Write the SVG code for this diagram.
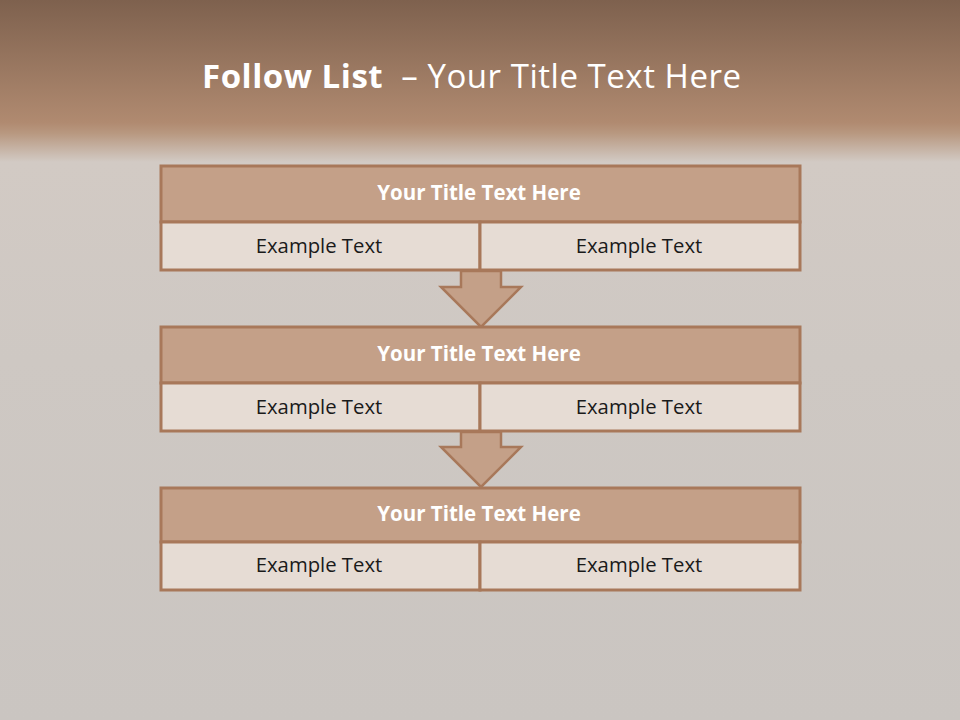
<svg xmlns="http://www.w3.org/2000/svg" width="960" height="720" viewBox="0 0 960 720">
<defs>
<linearGradient id="bg" x1="0" y1="0" x2="0" y2="1">
<stop offset="0" stop-color="#7E614E"/>
<stop offset="0.17" stop-color="#B08A70"/>
<stop offset="0.185" stop-color="#B89880"/>
<stop offset="0.225" stop-color="#D2CAC4"/>
<stop offset="0.5" stop-color="#CEC8C3"/>
<stop offset="1" stop-color="#CAC5C1"/>
</linearGradient>
<style>
.ttl{fill:#C4A088;stroke:#A8785A;stroke-width:3}
.cell{fill:#E6DCD4;stroke:#A8785A;stroke-width:3}
.arr{fill:#C4A088;stroke:#A8785A;stroke-width:2.5;stroke-linejoin:miter}
.th{font-family:"Open Sans","Liberation Sans",sans-serif;font-weight:bold;font-size:20.5px;fill:#FFFFFF;text-anchor:middle}
.ex{font-family:"Open Sans","Liberation Sans",sans-serif;font-size:20.3px;fill:#1A1A1A;text-anchor:middle}
</style>
</defs>
<rect x="0" y="0" width="960" height="720" fill="url(#bg)"/>
<text x="202" y="88" font-family="Open Sans, Liberation Sans, sans-serif" font-size="33" fill="#FFFFFF" textLength="539" lengthAdjust="spacing" xml:space="preserve"><tspan font-weight="bold">Follow List</tspan>  – Your Title Text Here</text>
<g id="connectors">
<path class="arr" d="M461,271 L501,271 L501,287 L521,287 L481,327 L441,287 L461,287 Z"/>
<path class="arr" d="M461,432 L501,432 L501,447 L521,447 L481,487 L441,447 L461,447 Z"/>
</g>
<g id="block1">
<rect class="ttl" x="161" y="166" width="639" height="56"/>
<rect class="cell" x="161" y="222" width="319" height="48"/>
<rect class="cell" x="480" y="222" width="320" height="48"/>
<text class="th" x="479" y="200">Your Title Text Here</text>
<text class="ex" x="319" y="253">Example Text</text>
<text class="ex" x="639" y="253">Example Text</text>
</g>
<g id="block2">
<rect class="ttl" x="161" y="327" width="639" height="56"/>
<rect class="cell" x="161" y="383" width="319" height="48"/>
<rect class="cell" x="480" y="383" width="320" height="48"/>
<text class="th" x="479" y="361">Your Title Text Here</text>
<text class="ex" x="319" y="414">Example Text</text>
<text class="ex" x="639" y="414">Example Text</text>
</g>
<g id="block3">
<rect class="ttl" x="161" y="488" width="639" height="54"/>
<rect class="cell" x="161" y="542" width="319" height="48"/>
<rect class="cell" x="480" y="542" width="320" height="48"/>
<text class="th" x="479" y="521">Your Title Text Here</text>
<text class="ex" x="319" y="572">Example Text</text>
<text class="ex" x="639" y="572">Example Text</text>
</g>
</svg>
